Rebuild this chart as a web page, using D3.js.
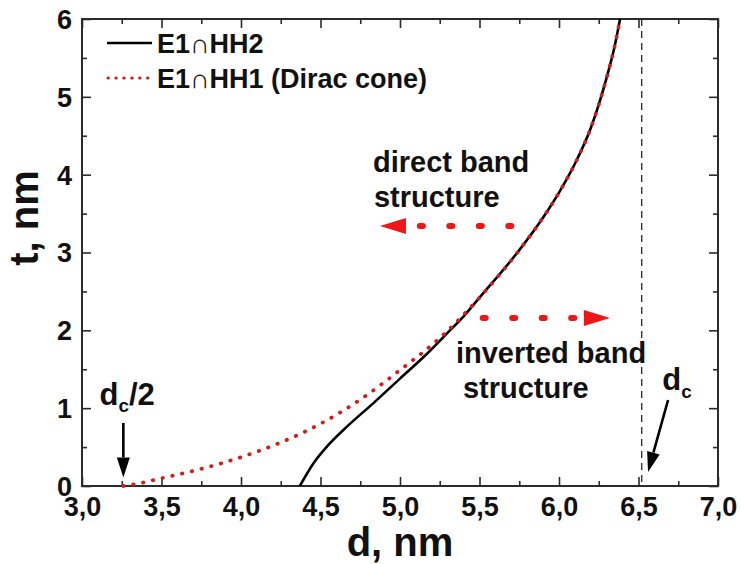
<!DOCTYPE html>
<html>
<head>
<meta charset="utf-8">
<script src="https://cdn.jsdelivr.net/npm/d3@7"></script>
<style>
  html, body { margin: 0; padding: 0; background: #fff; }
  svg { display: block; }
  text { font-family: "Liberation Sans", Arial, sans-serif; font-weight: bold; fill: #111; }
</style>
</head>
<body>
<svg id="chart" width="741" height="564"></svg>
<script>
// E1∩HH2 crossing: well thickness d (nm) vs barrier thickness t (nm)
const hh2D = [4.37, 4.455, 4.54, 4.665, 4.833, 5.0, 5.15, 5.30, 5.40, 5.5, 5.75, 5.9, 6.0, 6.1, 6.2, 6.25, 6.3, 6.35, 6.384];
const hh2T = [0, 0.29, 0.505, 0.76, 1.065, 1.38, 1.66, 1.97, 2.18, 2.42, 3.03, 3.45, 3.77, 4.14, 4.6, 4.9, 5.25, 5.65, 6.0];

// E1∩HH1 crossing (Dirac cone)
const hh1D = [3.26, 3.35, 3.5, 3.75, 4.0, 4.25, 4.5, 4.75, 5.0, 5.25, 5.5, 5.75, 5.9, 6.0, 6.1, 6.2, 6.25, 6.3, 6.35, 6.384];
const hh1T = [0, 0.03, 0.1, 0.22, 0.37, 0.56, 0.8, 1.11, 1.49, 1.9, 2.42, 3.03, 3.45, 3.77, 4.14, 4.6, 4.9, 5.25, 5.65, 6.0];

// Critical thickness and axis ticks
const dCritical = 6.52;
const xMajorTicks = [3.0, 3.5, 4.0, 4.5, 5.0, 5.5, 6.0, 6.5, 7.0];
const xMinorTicks = [3.25, 3.75, 4.25, 4.75, 5.25, 5.75, 6.25, 6.75];
const yMajorTicks = [0, 1, 2, 3, 4, 5, 6];
const yMinorTicks = [0.5, 1.5, 2.5, 3.5, 4.5, 5.5];
const legendLabels = ["E1\u2229HH2", "E1\u2229HH1 (Dirac cone)"];

const svg = d3.select("#chart");
const plotL = 82, plotR = 718, plotT = 19, plotB = 486;

const x = d3.scaleLinear().domain([3, 7]).range([plotL, plotR]);
const y = d3.scaleLinear().domain([0, 6]).range([plotB, plotT]);

const fmt = v => d3.format(".1f")(v).replace(".", ",");

// ---- axes (ticks point inward on all four sides) ----
const majorLen = 9, minorLen = 5;
const axisColor = "#2b2b2b";

function drawAxis(axis, ticks, len) {
  return axis.tickValues(ticks).tickSizeInner(-len).tickSizeOuter(0);
}

const gxB = svg.append("g").attr("transform", `translate(0,${plotB})`)
  .call(drawAxis(d3.axisBottom(x), xMajorTicks, majorLen).tickFormat(fmt));
svg.append("g").attr("transform", `translate(0,${plotB})`)
  .call(drawAxis(d3.axisBottom(x), xMinorTicks, minorLen).tickFormat(""));
svg.append("g").attr("transform", `translate(0,${plotT})`)
  .call(drawAxis(d3.axisTop(x), xMajorTicks, majorLen).tickFormat(""));
svg.append("g").attr("transform", `translate(0,${plotT})`)
  .call(drawAxis(d3.axisTop(x), xMinorTicks, minorLen).tickFormat(""));

const gyL = svg.append("g").attr("transform", `translate(${plotL},0)`)
  .call(drawAxis(d3.axisLeft(y), yMajorTicks, majorLen).tickFormat(d3.format("d")));
svg.append("g").attr("transform", `translate(${plotL},0)`)
  .call(drawAxis(d3.axisLeft(y), yMinorTicks, minorLen).tickFormat(""));
svg.append("g").attr("transform", `translate(${plotR},0)`)
  .call(drawAxis(d3.axisRight(y), yMajorTicks, majorLen).tickFormat(""));
svg.append("g").attr("transform", `translate(${plotR},0)`)
  .call(drawAxis(d3.axisRight(y), yMinorTicks, minorLen).tickFormat(""));

svg.selectAll(".domain").remove();
svg.selectAll(".tick line").attr("stroke", axisColor).attr("stroke-width", 1.6);
svg.selectAll("g").attr("font-family", null).attr("font-size", null);
svg.selectAll(".tick text").attr("font-size", 27).attr("fill", "#111");
gxB.selectAll(".tick text").attr("dy", "0.71em").attr("y", 11);
gyL.selectAll(".tick text").attr("x", -10).attr("dy", "0.35em");

// frame
svg.append("rect")
  .attr("x", plotL).attr("y", plotT)
  .attr("width", plotR - plotL).attr("height", plotB - plotT)
  .attr("fill", "none").attr("stroke", axisColor).attr("stroke-width", 2);

// ---- critical thickness line ----
svg.append("line")
  .attr("x1", x(dCritical)).attr("x2", x(dCritical))
  .attr("y1", y(6)).attr("y2", y(0))
  .attr("stroke", "#333").attr("stroke-width", 1.4)
  .attr("stroke-dasharray", "7 5");

// ---- curves ----
const line = d3.line().x(d => x(d[0])).y(d => y(d[1])).curve(d3.curveMonotoneX);
const hh2 = hh2D.map((d, i) => [d, hh2T[i]]);
const hh1 = hh1D.map((d, i) => [d, hh1T[i]]);

svg.append("path").datum(hh2).attr("d", line)
  .attr("fill", "none").attr("stroke", "#000").attr("stroke-width", 2.6);
svg.append("path").datum(hh1).attr("d", line)
  .attr("fill", "none").attr("stroke", "#d41c1c").attr("stroke-width", 3.8)
  .attr("stroke-linecap", "round").attr("stroke-dasharray", "0.4 9.6");

// ---- legend ----
svg.append("line").attr("x1", 107).attr("x2", 152).attr("y1", 43).attr("y2", 43)
  .attr("stroke", "#000").attr("stroke-width", 2.6);
svg.append("line").attr("x1", 108).attr("x2", 152).attr("y1", 78).attr("y2", 78)
  .attr("stroke", "#d41c1c").attr("stroke-width", 3)
  .attr("stroke-linecap", "round").attr("stroke-dasharray", "0.4 7.5");
svg.append("text").attr("x", 157).attr("y", 53).attr("font-size", 27).text(legendLabels[0]);
svg.append("text").attr("x", 157).attr("y", 88).attr("font-size", 27).text(legendLabels[1]);

// ---- axis titles ----
svg.append("text").attr("x", (plotL + plotR) / 2).attr("y", 556)
  .attr("text-anchor", "middle").attr("font-size", 40).text("d, nm");
svg.append("text").attr("transform", `translate(38,218) rotate(-90)`)
  .attr("text-anchor", "middle").attr("font-size", 40).text("t, nm");

// ---- region annotations ----
const noteSize = 29;
svg.append("text").attr("x", x(4.83)).attr("y", y(4.03)).attr("font-size", noteSize).text("direct band");
svg.append("text").attr("x", x(4.836)).attr("y", y(3.585)).attr("font-size", noteSize).text("structure");
svg.append("text").attr("x", x(5.352)).attr("y", y(1.58)).attr("font-size", noteSize).text("inverted band");
svg.append("text").attr("x", x(5.396)).attr("y", y(1.13)).attr("font-size", noteSize).text("structure");

// red dotted arrows: tail d, head d, t
const arrowRed = "#ee1616";
function redArrow(d0, d1, t) {
  const dir = Math.sign(d1 - d0);
  const tipX = x(d1), yy = y(t);
  const headLen = 26, headHalf = 8;
  const baseX = tipX - dir * headLen;
  svg.append("line")
    .attr("x1", x(d0)).attr("x2", baseX - dir * 8).attr("y1", yy).attr("y2", yy)
    .attr("stroke", arrowRed).attr("stroke-width", 6)
    .attr("stroke-linecap", "round").attr("stroke-dasharray", "3 26.5");
  svg.append("path")
    .attr("d", `M${tipX},${yy} L${baseX},${yy - headHalf} L${baseX},${yy + headHalf} Z`)
    .attr("fill", arrowRed);
}
redArrow(5.70, 4.874, 3.34);
redArrow(5.52, 6.32, 2.16);

// ---- d_c and d_c/2 markers ----
function blackArrow(xa, ya, xb, yb) {
  const ang = Math.atan2(yb - ya, xb - xa);
  const hl = 20, hw = 6.5;
  const bx = xb - hl * Math.cos(ang), by = yb - hl * Math.sin(ang);
  svg.append("line").attr("x1", xa).attr("y1", ya).attr("x2", bx).attr("y2", by)
    .attr("stroke", "#000").attr("stroke-width", 2.6);
  const px = -Math.sin(ang) * hw, py = Math.cos(ang) * hw;
  svg.append("path")
    .attr("d", `M${xb},${yb} L${bx + px},${by + py} L${bx - px},${by - py} Z`)
    .attr("fill", "#000");
}

const half = svg.append("text").attr("x", x(3.11)).attr("y", y(1.04)).attr("font-size", 31);
half.append("tspan").text("d");
half.append("tspan").attr("font-size", 19).attr("dy", 7).text("c");
half.append("tspan").attr("dy", -7).text("/2");
blackArrow(x(dCritical / 2), y(0.81), x(dCritical / 2), y(0.11));

const full = svg.append("text").attr("x", x(6.65)).attr("y", y(1.233)).attr("font-size", 31);
full.append("tspan").text("d");
full.append("tspan").attr("font-size", 19).attr("dy", 8).text("c");
blackArrow(x(6.686), y(1.105), x(6.56), y(0.18));
</script>
</body>
</html>
